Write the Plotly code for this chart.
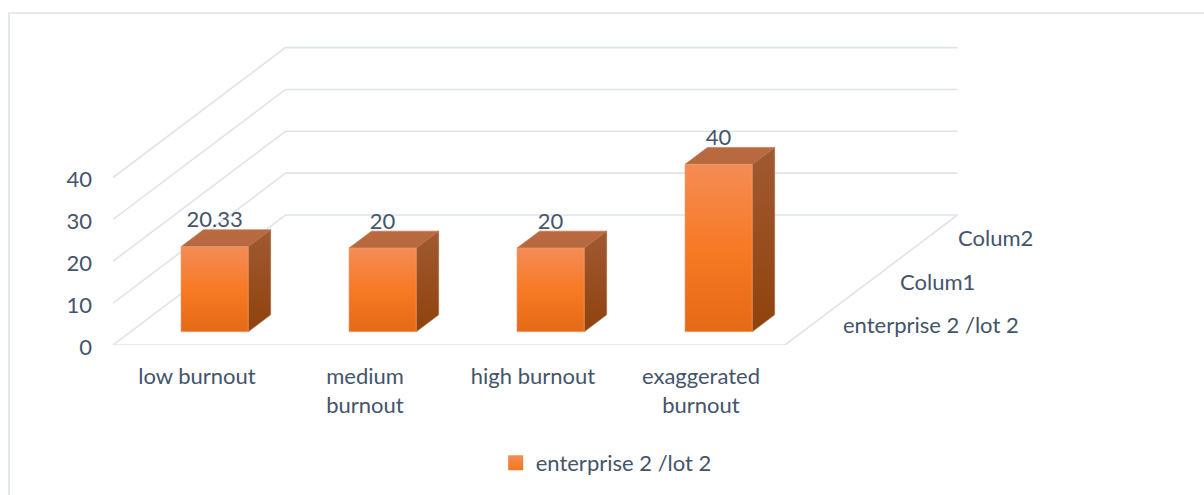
import plotly.graph_objects as go

categories = ["low burnout", "medium<br>burnout", "high burnout", "exaggerated<br>burnout"]
values = [20.33, 20, 20, 40]
value_labels = ["20.33", "20", "20", "40"]
y_ticks = [0, 10, 20, 30, 40]
depth_labels = ["enterprise 2 /lot 2", "Colum1", "Colum2"]
series_name = "enterprise 2 /lot 2"

PX_CAT = 168.0      # px per category
PX_VAL = 4.185      # px per value unit
DX = 172.5          # px of full depth, horizontally
DY = 130.0          # px of full depth, vertically
BAR_W = 0.40        # share of a category
D0, D1 = 0.102, 0.232  # bar's depth span
LABEL_LIFT = 8      # px from the bar's back top edge to the label's middle
ML, MB, MT, MR = 113, 150, 45, 244
W, H = 1204, 495
FONT = "Lato"
TXT = "#44546A"
GRID = "#DFE3EA"
FS = 22


def proj(c, v, d):
    return c + d * DX / PX_CAT, v + d * DY / PX_VAL


def poly(points):
    pts = [proj(*p) for p in points]
    pts.append(pts[0])
    return [p[0] for p in pts], [p[1] for p in pts]


fig = go.Figure()
n = len(values)

# walls and floor
for v in y_ticks:
    a = proj(0, v, 0)
    b = proj(0, v, 1)
    c = proj(n, v, 1)
    fig.add_trace(go.Scatter(x=[a[0], b[0], c[0]], y=[a[1], b[1], c[1]], mode="lines",
                             line=dict(color=GRID, width=1.6), showlegend=False, hoverinfo="skip",
                             cliponaxis=False))
a, b, c = proj(0, 0, 0), proj(n, 0, 0), proj(n, 0, 1)
fig.add_trace(go.Scatter(x=[a[0], b[0], c[0]], y=[a[1], b[1], c[1]], mode="lines",
                         line=dict(color=GRID, width=1.6), showlegend=False, hoverinfo="skip",
                         cliponaxis=False))


def face(points, scale, line):
    x, y = poly(points)
    fig.add_trace(go.Scatter(x=x, y=y, mode="lines", fill="toself",
                             line=dict(color=line, width=0.6),
                             fillgradient=dict(type="vertical", colorscale=scale),
                             showlegend=False, hoverinfo="skip", cliponaxis=False))


for i, v in enumerate(values):
    l = i + 0.5 - BAR_W / 2
    r = i + 0.5 + BAR_W / 2
    face([(r, 0, D0), (r, 0, D1), (r, v, D1), (r, v, D0)],
         [[0, "#8F420C"], [1, "#A05A32"]], "#A35F36")
    face([(l, v, D0), (r, v, D0), (r, v, D1), (l, v, D1)],
         [[0, "#B5683F"], [1, "#BB6A3F"]], "#BD744E")
    face([(l, 0, D0), (r, 0, D0), (r, v, D0), (l, v, D0)],
         [[0, "#E56A17"], [0.5, "#F77A24"], [1, "#F48C57"]], "#F3A06F")

# value labels
lx, ly = [], []
for i, v in enumerate(values):
    _, y = proj(0, v, D1)
    x, _ = proj(i + 0.5, v, D0)
    lx.append(x)
    ly.append(y + LABEL_LIFT / PX_VAL)
fig.add_trace(go.Scatter(x=lx, y=ly, mode="text", text=value_labels, textposition="middle center",
                         textfont=dict(family=FONT, size=FS, color=TXT), showlegend=False,
                         hoverinfo="skip", cliponaxis=False))

# legend entry
fig.add_trace(go.Scatter(x=[None], y=[None], mode="markers", name=series_name,
                         marker=dict(symbol="square", size=15, color="#F48C57",
                                     gradient=dict(type="vertical", color="#F4761F"),
                                     line=dict(width=0)),
                         hoverinfo="skip"))

# depth axis labels
annots = []
for k, name in enumerate(depth_labels):
    x, y = proj(n, 0, (k + 0.5) / len(depth_labels))
    annots.append(dict(x=x, y=y, xref="x", yref="y", text=name, showarrow=False,
                       xanchor="left", yanchor="middle", xshift=27, yshift=-1,
                       font=dict(family=FONT, size=FS, color=TXT)))

plot_w = W - ML - MR
plot_h = H - MB - MT
fig.update_layout(
    width=W, height=H,
    margin=dict(l=ML, r=MR, t=MT, b=MB, autoexpand=False),
    paper_bgcolor="white", plot_bgcolor="white",
    font=dict(family=FONT, size=FS, color=TXT),
    xaxis=dict(range=[0, plot_w / PX_CAT], tickmode="array",
               tickvals=[i + 0.5 for i in range(n)], ticktext=categories,
               tickangle=0, showgrid=False, zeroline=False, showline=False, ticks="",
               ticklabelstandoff=16, tickfont=dict(family=FONT, size=FS, color=TXT)),
    yaxis=dict(range=[0, plot_h / PX_VAL], tickmode="array", tickvals=y_ticks,
               ticktext=[str(t) for t in y_ticks], showgrid=False, zeroline=False,
               showline=False, ticks="", ticklabelstandoff=20, ticklabelshift=2,
               tickfont=dict(family=FONT, size=FS, color=TXT)),
    legend=dict(orientation="h", xref="container", yref="container", x=0.4117, xanchor="left",
                y=0.065, yanchor="middle", font=dict(family=FONT, size=FS, color=TXT),
                bgcolor="rgba(0,0,0,0)"),
    annotations=annots,
    shapes=[dict(type="rect", xref="paper", yref="paper",
                 x0=(9 - ML) / plot_w, x1=(W + 20 - ML) / plot_w,
                 y0=-(MB + 20) / plot_h, y1=1 + (MT - 13) / plot_h,
                 line=dict(color=GRID, width=1.6), layer="below")],
)
fig.write_html("out.html", config=dict(displayModeBar=False),
               post_script="document.body.style.margin='0';")
